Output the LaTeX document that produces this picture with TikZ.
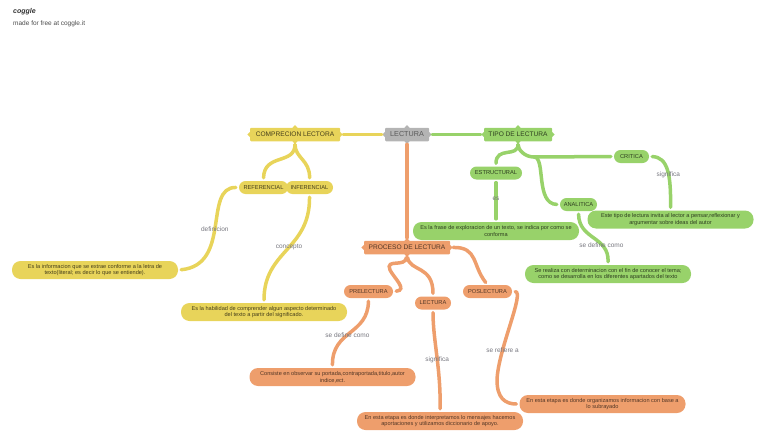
\documentclass[tikz,border=0pt]{standalone}
\usepackage{fontspec}
\setmainfont{Liberation Sans}
\definecolor{mapyellow}{HTML}{E8D45A}
\definecolor{mapgreen}{HTML}{98D26A}
\definecolor{maporange}{HTML}{EE9E6C}
\definecolor{mapgray}{HTML}{B4B4B4}
\definecolor{linkgray}{HTML}{77777F}
\newcommand{\mapfont}[1]{\fontsize{#1}{6.7}\selectfont}
\tikzset{
  rootbox/.style={rounded corners=1pt,minimum height=13.5,inner sep=0,font=\mapfont{6.6}},
  tagbox/.style={rounded corners=6.5,minimum height=13,inner sep=0,font=\mapfont{5.7}},
  textbox/.style={rounded corners=8.5,minimum width=166,minimum height=18,inner sep=0,align=center,font=\mapfont{5.6}},
  link/.style={line width=3.5,line cap=round,shorten >=3pt,shorten <=3pt},
  linktext/.style={text=linkgray,font=\mapfont{6.5},inner sep=0},
}
\begin{document}
\begin{tikzpicture}[x=1pt,y=-1pt]
  \useasboundingbox (0,0) rectangle (768,447);
  \node[anchor=west,font=\bfseries\itshape\fontsize{7}{8}\selectfont,text=black!80,inner sep=0] (logo) at (13,12) {coggle};
  \node[anchor=west,font=\mapfont{6.5},text=black!70,inner sep=0] (made) at (13,24) {made for free at coggle.it};

  % centre
  \node[rootbox,fill=mapgray,text=black!65,minimum width=44,font=\mapfont{7.2}] (lectura) at (407,134.5) {LECTURA};

  % yellow branch
  \begin{scope}[every node/.append style={fill=mapyellow,text=mapyellow!30!black}]
    \node[rootbox,minimum width=90] (compre) at (295,134.5) {COMPRECION LECTORA};
    \node[tagbox,minimum width=49] (referencial) at (263.5,187.5) {REFERENCIAL};
    \node[tagbox,minimum width=47] (inferencial) at (309.5,187.5) {INFERENCIAL};
    \node[textbox] (infotext) at (95,270) {Es la informacion que se extrae conforme a la letra de\\texto(literal; es decir lo que se entiende).};
    \node[textbox] (habilidad) at (264,312) {Es la habilidad de comprender algun aspecto determinado\\del texto a partir del significado.};
  \end{scope}

  % green branch
  \begin{scope}[every node/.append style={fill=mapgreen,text=mapgreen!30!black}]
    \node[rootbox,minimum width=68] (tipo) at (518,134.5) {TIPO DE LECTURA};
    \node[tagbox,minimum width=52] (estructural) at (496,173) {ESTRUCTURAL};
    \node[tagbox,minimum width=37] (analitica) at (578.5,204.5) {ANALITICA};
    \node[tagbox,minimum width=35] (critica) at (631.5,156.5) {CRITICA};
    \node[textbox] (esta) at (670.5,219.5) {Este tipo de lectura invita al lector a pensar,reflexionar y\\argumentar sobre ideas del autor};
    \node[textbox] (frase) at (496,231) {Es la frase de exploracion de un texto, se indica por como se\\conforma};
    \node[textbox] (realiza) at (608,274) {Se realiza con determinacion con el fin de conocer el tema;\\como se desarrolla en los diferentes apartados del texto};
  \end{scope}

  % orange branch
  \begin{scope}[every node/.append style={fill=maporange,text=maporange!35!black}]
    \node[rootbox,minimum width=86] (proceso) at (407,247.5) {PROCESO DE LECTURA};
    \node[tagbox,minimum width=49] (prelectura) at (368.5,291.5) {PRELECTURA};
    \node[tagbox,minimum width=36] (lecturatag) at (433,303) {LECTURA};
    \node[tagbox,minimum width=49] (poslectura) at (487.5,291.5) {POSLECTURA};
    \node[textbox] (consiste) at (332.5,377) {Consiste en observar su portada,contraportada,titulo,autor\\indice,ect.};
    \node[textbox] (interpreta) at (440,421) {En esta etapa es donde interpretamos lo mensajes hacemos\\aportaciones y utilizamos diccionario de apoyo.};
    \node[textbox] (organiza) at (602.5,404) {En esta etapa es donde organizamos informacion con base a\\lo subrayado};
  \end{scope}

  % points on the four main boxes
  \foreach \nd/\col in {lectura/mapgray,compre/mapyellow,tipo/mapgreen,proceso/maporange}
    \foreach \side in {north,south,east,west}
      \fill[\col] (\nd.\side) +(-2.5,0) -- +(0,-2.5) -- +(2.5,0) -- +(0,2.5) -- cycle;

  \coordinate (tipofork) at (534,157);

  \draw[link,mapyellow] (lectura.west) -- (compre.east);
  \draw[link,mapyellow] (compre.south) .. controls (295,165) and (264,153) .. (referencial.north);
  \draw[link,mapyellow] (compre.south) .. controls (295,158) and (310,160) .. (inferencial.north);
  \draw[link,mapyellow] (referencial.west) .. controls (203,187) and (232,265) .. node[linktext,pos=.52] {definicion} (infotext.east);
  \draw[link,mapyellow] (inferencial.south) .. controls (310,250) and (264,250) .. node[linktext,pos=.47] {concepto} (habilidad.north);

  \draw[link,mapgreen] (lectura.east) -- (tipo.west);
  \draw[link,mapgreen] (tipo.south) .. controls (518,158) and (496,146) .. (estructural.north);
  \draw[link,mapgreen] (tipo.south) .. controls (518,150) and (525,157) .. (tipofork) -- (critica.west);
  \draw[link,mapgreen,shorten <=0pt] (tipofork) .. controls (546,157) and (535,204) .. (analitica.west);
  \draw[link,mapgreen] (critica.east) .. controls (668,157) and (671,175) .. node[linktext,pos=.58] {significa} (esta.north);
  \draw[link,mapgreen] (estructural.south) -- node[linktext,pos=.45] {es} (frase.north);
  \draw[link,mapgreen] (analitica.south) .. controls (579,240) and (609,236) .. node[linktext,pos=.68] {se define como} (realiza.north);

  \draw[link,maporange] (lectura.south) -- (proceso.north);
  \draw[link,maporange] (proceso.south) .. controls (405,268) and (385,258) .. (390,270) .. controls (394,278) and (408,290) .. (prelectura.east);
  \draw[link,maporange] (proceso.south) .. controls (410,272) and (433,265) .. (lecturatag.north);
  \draw[link,maporange] (proceso.east) .. controls (478,247) and (472,265) .. (poslectura.north);
  \draw[link,maporange] (prelectura.south) .. controls (368,335) and (332,330) .. node[linktext,pos=.55] {se define como} (consiste.north);
  \draw[link,maporange] (lecturatag.south) .. controls (433,340) and (441,370) .. node[linktext,pos=.53] {significa} (interpreta.north);
  \draw[link,maporange] (poslectura.east) .. controls (525,292) and (498,350) .. node[linktext,pos=.72] {se refiere a} (497,380) .. controls (497,398) and (505,404) .. (organiza.west);
\end{tikzpicture}
\end{document}
